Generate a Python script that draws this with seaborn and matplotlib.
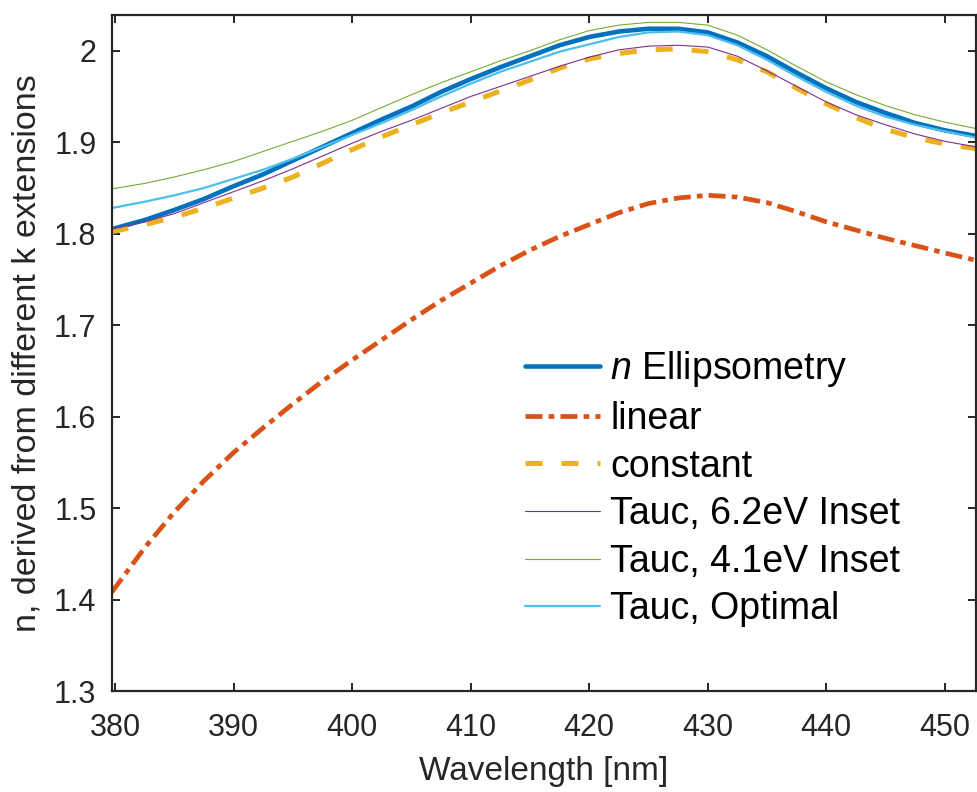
import matplotlib
matplotlib.use("Agg")
import matplotlib.pyplot as plt
import seaborn as sns
import pandas as pd
from matplotlib.ticker import FuncFormatter

# ---- data ----
wavelength = [379.7, 382.5, 385, 387.5, 390, 392.5, 395, 397.5, 400, 402.5,
              405, 407.5, 410, 412.5, 415, 417.5, 420, 422.5, 425, 427.5,
              430, 432.5, 435, 437.5, 440, 442.5, 445, 447.5, 450, 452.6]

n_ellipsometry = [1.805, 1.815, 1.826, 1.838, 1.852, 1.865, 1.880, 1.895, 1.910, 1.925,
                  1.939, 1.955, 1.969, 1.982, 1.994, 2.006, 2.015, 2.021, 2.024, 2.024,
                  2.020, 2.009, 1.994, 1.976, 1.959, 1.944, 1.932, 1.921, 1.913, 1.907]

n_linear = [1.408, 1.457, 1.496, 1.530, 1.561, 1.588, 1.614, 1.639, 1.662, 1.684,
            1.706, 1.727, 1.746, 1.765, 1.782, 1.797, 1.810, 1.823, 1.833, 1.839,
            1.842, 1.840, 1.834, 1.824, 1.813, 1.804, 1.795, 1.787, 1.779, 1.771]

n_constant = [1.802, 1.810, 1.818, 1.828, 1.839, 1.850, 1.862, 1.877, 1.892, 1.906,
              1.919, 1.932, 1.944, 1.956, 1.968, 1.981, 1.991, 1.997, 2.001, 2.002,
              1.999, 1.990, 1.977, 1.959, 1.942, 1.927, 1.914, 1.905, 1.898, 1.893]

n_tauc_62 = [1.805, 1.813, 1.822, 1.834, 1.846, 1.858, 1.871, 1.885, 1.899, 1.912,
             1.924, 1.937, 1.950, 1.961, 1.972, 1.983, 1.993, 2.001, 2.005, 2.006,
             2.004, 1.994, 1.978, 1.961, 1.944, 1.930, 1.919, 1.909, 1.901, 1.895]

n_tauc_41 = [1.849, 1.855, 1.862, 1.870, 1.879, 1.890, 1.901, 1.912, 1.924, 1.938,
             1.952, 1.965, 1.977, 1.989, 2.000, 2.012, 2.022, 2.028, 2.031, 2.031,
             2.028, 2.017, 2.001, 1.983, 1.966, 1.952, 1.940, 1.930, 1.922, 1.915]

n_tauc_opt = [1.828, 1.835, 1.842, 1.850, 1.860, 1.870, 1.882, 1.895, 1.908, 1.921,
              1.935, 1.950, 1.964, 1.977, 1.988, 1.999, 2.007, 2.015, 2.020, 2.021,
              2.017, 2.006, 1.990, 1.972, 1.955, 1.940, 1.928, 1.919, 1.912, 1.905]

labels = [r"$n$ Ellipsometry", "linear", "constant",
          "Tauc, 6.2eV Inset", "Tauc, 4.1eV Inset", "Tauc, Optimal"]

x_ticks = [380, 390, 400, 410, 420, 430, 440, 450]
y_ticks = [1.3, 1.4, 1.5, 1.6, 1.7, 1.8, 1.9, 2.0]

# ---- style ----
sns.set_theme(style="ticks")
plt.rcParams["font.family"] = ["Liberation Sans", "DejaVu Sans"]
plt.rcParams["mathtext.fontset"] = "custom"
plt.rcParams["mathtext.it"] = "Liberation Sans:italic"
plt.rcParams["mathtext.rm"] = "Liberation Sans"

spine_c = "#262626"

fig = plt.figure(figsize=(9.77, 7.92), dpi=100)
ax = fig.add_axes([0.1143, 0.1273, 0.8842, 0.8537])

series = [n_ellipsometry, n_linear, n_constant, n_tauc_62, n_tauc_41, n_tauc_opt]
colors = ["#0072BD", "#D95319", "#EDB120", "#7E2F8E", "#77AC30", "#4DBEEE"]
widths = [3.3, 3.4, 3.6, 0.8, 0.8, 1.6]
styles = ["-", (0, (3.6, 1.3, 1.2, 1.3)), (0, (3.4, 3.8)), "-", "-", "-"]

for vals, lab, c, lw, ls in zip(series, labels, colors, widths, styles):
    df = pd.DataFrame({"wavelength": wavelength, "n": vals})
    sns.lineplot(data=df, x="wavelength", y="n", ax=ax, color=c, linewidth=lw,
                 linestyle=ls, label=lab, sort=True, estimator=None)

ax.set_xlim(379.7, 452.6)
ax.set_ylim(1.3, 2.039)
ax.set_xticks(x_ticks)
ax.set_yticks(y_ticks)
ax.yaxis.set_major_formatter(FuncFormatter(lambda v, p: f"{v:g}"))
ax.xaxis.set_major_formatter(FuncFormatter(lambda v, p: f"{v:g}"))

for s in ax.spines.values():
    s.set_visible(True)
    s.set_linewidth(1.6)
    s.set_color(spine_c)

ax.tick_params(axis="both", which="major", direction="in", length=6, width=1.4,
               color=spine_c, labelsize=22, labelcolor="#262626",
               top=True, right=True)
ax.tick_params(axis="x", pad=16)
ax.tick_params(axis="y", pad=11)

ax.set_xlabel("Wavelength [nm]", fontsize=24, color="#262626", labelpad=9)
ax.set_ylabel("n, derived from different k extensions", fontsize=24.5,
              color="#262626", labelpad=8)

leg = ax.legend(loc="center left", bbox_to_anchor=(0.4785, 0.30), frameon=False,
                fontsize=27, handlelength=2.0, handletextpad=0.27,
                labelspacing=0.31, borderpad=0, borderaxespad=0)
for t in leg.get_texts():
    t.set_color("black")

fig.savefig("out.png", dpi=100, facecolor="white")
